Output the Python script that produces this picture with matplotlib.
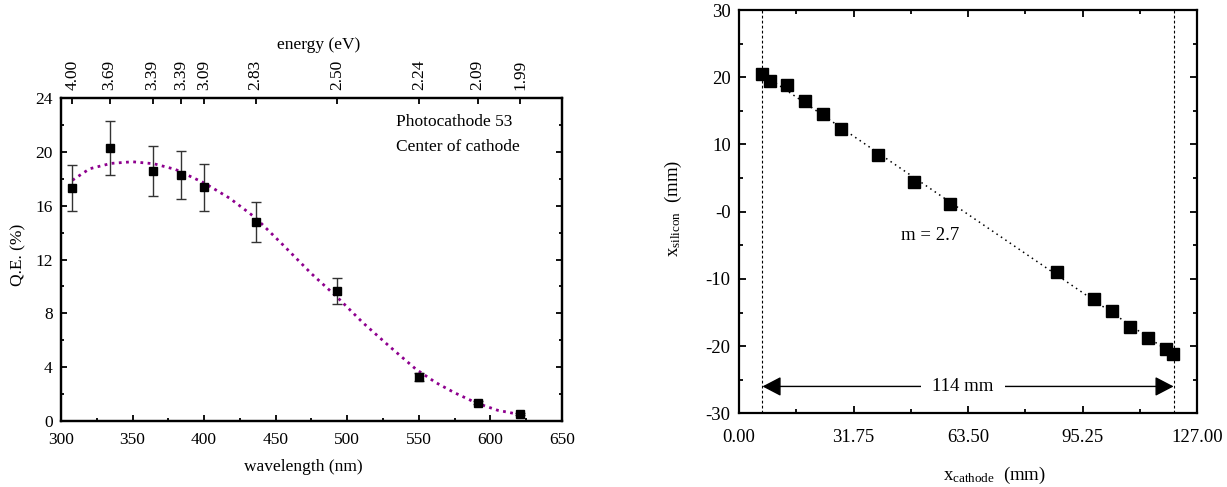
import numpy as np
import matplotlib
matplotlib.use("Agg")
import matplotlib.pyplot as plt
from matplotlib.ticker import MultipleLocator, FixedLocator, FixedFormatter

plt.rcParams['font.family'] = ['Liberation Serif', 'DejaVu Serif']
plt.rcParams['mathtext.fontset'] = 'custom'
plt.rcParams['mathtext.rm'] = 'Liberation Serif'
plt.rcParams['mathtext.it'] = 'Liberation Serif:italic'

# --- left panel: quantum efficiency ---
wavelength = [308, 334, 364, 384, 400, 436, 493, 550, 591, 621]
qe = [17.3, 20.3, 18.57, 18.28, 17.36, 14.8, 9.68, 3.29, 1.36, 0.52]
qe_err = [1.7, 2.0, 1.85, 1.8, 1.72, 1.47, 0.97, 0.28, 0.12, 0.06]
energy_labels = ["4.00", "3.69", "3.39", "3.39", "3.09", "2.83", "2.50", "2.24", "2.09", "1.99"]

fit_wl = [308, 320, 335, 350, 365, 380, 400, 418, 436, 455, 475, 493, 511,
          530, 548, 562, 575, 590, 605, 622]
fit_qe = [17.9, 18.75, 19.15, 19.27, 19.12, 18.7, 17.7, 16.55, 15.1, 13.1, 10.95,
          9.2, 7.3, 5.5, 3.85, 2.85, 2.1, 1.35, 0.8, 0.45]

# --- right panel: position mapping ---
x_cathode = [6.4, 8.5, 13.4, 18.4, 23.4, 28.3, 38.4, 48.4, 58.4, 88.3, 98.4,
             103.3, 108.3, 113.3, 118.3, 120.3]
x_silicon = [20.5, 19.4, 18.8, 16.4, 14.6, 12.3, 8.4, 4.4, 1.2, -9.0, -12.95,
             -14.8, -17.1, -18.8, -20.4, -21.2]
cathode_edges = [6.5, 120.5]
x_ticks = [0.00, 31.75, 63.50, 95.25, 127.00]
y_ticks = [-30, -20, -10, 0, 10, 20, 30]
y_tick_labels = ["-30", "-20", "-10", "-0", "10", "20", "30"]

fig = plt.figure(figsize=(12.27, 4.87), dpi=100)

# ================= left =================
ax1 = fig.add_axes([0.0497, 0.1355, 0.4083, 0.663])
ax1.plot(fit_wl, fit_qe, linestyle=(0, (1, 1.6)), color="#8e008e", linewidth=2.0)
ax1.errorbar(wavelength, qe, yerr=qe_err, fmt="s", color="black", markersize=6,
             ecolor="#333333", elinewidth=1.0, capsize=3.5, capthick=1.0)

ax1.set_xlim(300, 650)
ax1.set_ylim(0, 24)
ax1.xaxis.set_major_locator(MultipleLocator(50))
ax1.xaxis.set_minor_locator(MultipleLocator(25))
ax1.yaxis.set_major_locator(MultipleLocator(4))
ax1.yaxis.set_minor_locator(MultipleLocator(2))
ax1.tick_params(which="both", direction="in", right=True, top=False, labelsize=12.5, width=1.3)
ax1.tick_params(which="major", length=4.5)
ax1.tick_params(which="minor", length=2.5)
ax1.tick_params(axis="x", pad=8)
ax1.tick_params(axis="y", pad=6)
for s in ax1.spines.values():
    s.set_linewidth(1.6)

ax1.set_xlabel("wavelength (nm)", fontsize=12.5)
ax1.xaxis.set_label_coords(0.484, -0.1425)
ax1.xaxis.label.set_va("center")
ax1.set_ylabel("Q.E. (%)", fontsize=12.5)
ax1.yaxis.set_label_coords(-0.086, 0.513)
ax1.yaxis.label.set_va("center")

ax1.text(533.8, 22.2, "Photocathode 53", fontsize=12.5, va="center", ha="left")
ax1.text(533.8, 20.4, "Center of cathode", fontsize=12.5, va="center", ha="left")

top = ax1.twiny()
top.set_xlim(ax1.get_xlim())
top.xaxis.set_major_locator(FixedLocator(wavelength))
top.xaxis.set_major_formatter(FixedFormatter(energy_labels))
top.xaxis.set_minor_locator(FixedLocator([]))
top.tick_params(axis="x", direction="in", length=4.5, width=1.3, labelsize=12.5,
                rotation=90, pad=6)
top.set_xlabel("energy (eV)", fontsize=12.5)
top.xaxis.set_label_coords(0.515, 1.164)
top.xaxis.label.set_va("center")
for s in top.spines.values():
    s.set_linewidth(1.6)

# ================= right =================
ax2 = fig.add_axes([0.6023, 0.1513, 0.3733, 0.828])
slope, icpt = np.polyfit(x_cathode, x_silicon, 1)
fx = np.array(cathode_edges)
ax2.plot(fx, slope * fx + icpt, linestyle=(0, (1, 2.5)), color="black", linewidth=1.1)
ax2.plot(x_cathode, x_silicon, "s", color="black", markersize=8)

for xe in cathode_edges:
    ax2.axvline(xe, color="black", linewidth=0.8, linestyle=(0, (2.5, 2)))

ax2.annotate("", xy=(cathode_edges[0], -26), xytext=(cathode_edges[1], -26),
             arrowprops=dict(arrowstyle="<|-|>,head_length=1.15,head_width=0.6",
                             color="black", linewidth=1.0, shrinkA=0, shrinkB=0))
ax2.text(62.1, -26, "114 mm", fontsize=13.5, ha="center", va="center",
         bbox=dict(facecolor="white", edgecolor="none", pad=8))
ax2.text(53.1, -3.5, "m = 2.7", fontsize=13.5, ha="center", va="center")

ax2.set_xlim(0, 127)
ax2.set_ylim(-30, 30)
ax2.xaxis.set_major_locator(FixedLocator(x_ticks))
ax2.xaxis.set_major_formatter(FixedFormatter(["%.2f" % v for v in x_ticks]))
ax2.xaxis.set_minor_locator(MultipleLocator(15.875))
ax2.yaxis.set_major_locator(FixedLocator(y_ticks))
ax2.yaxis.set_major_formatter(FixedFormatter(y_tick_labels))
ax2.yaxis.set_minor_locator(MultipleLocator(5))
ax2.tick_params(which="both", direction="in", top=True, right=True, labelsize=13.5, width=1.3)
ax2.tick_params(which="major", length=5)
ax2.tick_params(which="minor", length=3)
ax2.tick_params(axis="x", pad=11)
ax2.tick_params(axis="y", pad=6)
for s in ax2.spines.values():
    s.set_linewidth(1.6)

ax2.set_xlabel(r"$\mathregular{x_{cathode}}$  (mm)", fontsize=13.5)
ax2.xaxis.set_label_coords(0.557, -0.153)
ax2.xaxis.label.set_va("center")
ax2.set_ylabel(r"$\mathregular{x_{silicon}}$  (mm)", fontsize=13.5)
ax2.yaxis.set_label_coords(-0.144, 0.509)
ax2.yaxis.label.set_va("center")

fig.savefig("out.png", dpi=100)
